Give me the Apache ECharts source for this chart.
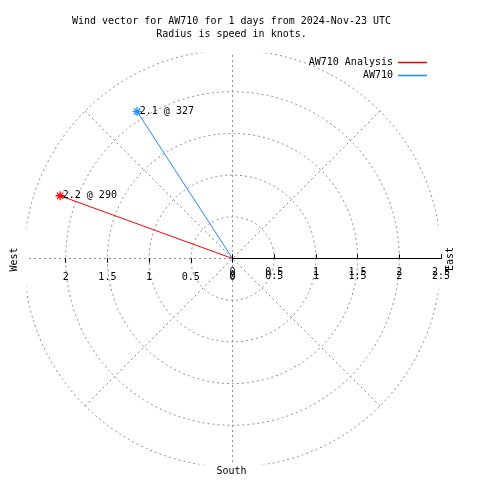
<!DOCTYPE html>
<html>
<head>
<meta charset="utf-8">
<script src="https://cdn.jsdelivr.net/npm/echarts@6/dist/echarts.min.js"></script>
<style>html,body{margin:0;padding:0;background:#fff;}#c{width:480px;height:480px;}</style>
</head>
<body>
<div id="c"></div>
<script>
// ---- data ----
const titleLines = ['Wind vector for AW710 for 1 days from 2024-Nov-23 UTC', 'Radius is speed in knots.'];
const stations = ['AW710 Analysis', 'AW710'];
const speeds = [2.2, 2.1];          // knots
const directions = [290, 327];      // degrees (bearing)
const radiusTicks = [0, 0.5, 1, 1.5, 2, 2.5];
const westTicks = [0, 0.5, 1, 1.5, 2];
const compassLabels = ['West', 'East', 'South'];

const FONT = 'DejaVu Sans Mono';
const COLORS = ['#ff0000', '#1e8cff'];
const CENTER = [232.5, 258.5];
const RADIUS = 208.5;
const rMin = radiusTicks[0], rMax = radiusTicks[radiusTicks.length - 1], rStep = radiusTicks[1] - radiusTicks[0];

const chart = echarts.init(document.getElementById('c'), null, {renderer: 'canvas'});

const dashed = {show: true, lineStyle: {color: '#8c8c8c', width: 1, type: [2, 3]}};
const hidden = {show: false};

function polar() { return {center: CENTER, radius: RADIUS}; }
function hiddenAngle(i, start) {
  return {polarIndex: i, type: 'value', min: 90, max: 450, interval: 45, startAngle: start, clockwise: true,
    axisLine: hidden, axisTick: hidden, axisLabel: hidden, splitLine: hidden, z: 5};
}
function radAxis(i, extra) {
  return Object.assign({polarIndex: i, type: 'value', min: rMin, max: rMax, interval: rStep,
    axisLine: hidden, axisTick: hidden, axisLabel: hidden, splitLine: hidden, splitArea: hidden, z: 5}, extra);
}
const lbl = (margin, custom) => {
  const o = {show: true, margin: margin, color: '#000', fontFamily: FONT, fontSize: 10,
    formatter: v => String(v)};
  if (custom) o.customValues = custom;
  return o;
};
const tick = (inside, custom) => {
  const o = {show: true, inside: inside, length: 4, lineStyle: {color: '#000', width: 1}};
  if (custom) o.customValues = custom;
  return o;
};

const series = stations.map((name, i) => ({
  name: name,
  type: 'line',
  coordinateSystem: 'polar',
  polarIndex: 0,
  z: 3,
  animation: false,
  lineStyle: {width: 1, color: COLORS[i]},
  symbol: 'path://M4,0L4,8M0,4L8,4M1.2,1.2L6.8,6.8M1.2,6.8L6.8,1.2',
  symbolSize: 9,
  itemStyle: {color: COLORS[i], borderColor: COLORS[i], borderWidth: 1.3},
  data: [
    {value: [0, directions[i]], symbol: 'none', label: {show: false}},
    {value: [speeds[i], directions[i]]}
  ],
  label: {
    show: true, position: 'right', distance: -2.5,
    color: '#000', fontFamily: FONT, fontSize: 10,
    formatter: () => speeds[i] + ' @ ' + directions[i]
  }
}));

const option = {
  animation: false,
  backgroundColor: '#fff',
  color: COLORS,
  title: {
    text: titleLines.join('\n'),
    left: 231.5, top: 14.5, padding: 0, textAlign: 'center',
    textStyle: {fontFamily: FONT, fontSize: 10, fontWeight: 'normal', color: '#000', lineHeight: 13}
  },
  legend: {
    data: stations, orient: 'vertical', right: 53, top: 56.5, padding: 0, align: 'right',
    icon: 'rect', itemWidth: 29, itemHeight: 1.5, itemGap: 1,
    itemStyle: {borderWidth: 0},
    textStyle: {fontFamily: FONT, fontSize: 10, color: '#000', lineHeight: 12}
  },
  polar: [polar(), polar(), polar(), polar(), polar()],
  angleAxis: [
    {polarIndex: 0, type: 'value', min: 90, max: 450, interval: 45, startAngle: 0, clockwise: true,
      axisLine: hidden, axisTick: hidden, axisLabel: hidden, splitLine: dashed, z: 0},
    hiddenAngle(1, 0), hiddenAngle(2, 0), hiddenAngle(3, 180), hiddenAngle(4, 180)
  ],
  radiusAxis: [
    radAxis(0, {splitLine: dashed, z: 0}),
    radAxis(1, {axisLine: {show: true, lineStyle: {color: '#000', width: 1}},
      axisTick: tick(false), axisLabel: lbl(-18.5)}),
    radAxis(2, {axisTick: tick(true), axisLabel: lbl(-23)}),
    radAxis(3, {axisTick: tick(false, westTicks), axisLabel: lbl(14, westTicks)}),
    radAxis(4, {axisTick: tick(true, westTicks)})
  ],
  graphic: [
    {type: 'rect', z: 1, silent: true, shape: {x: 195, y: 44, width: 75, height: 8.5}, style: {fill: '#fff'}},
    {type: 'rect', z: 1, silent: true, shape: {x: 195, y: 464.5, width: 75, height: 8}, style: {fill: '#fff'}},
    {type: 'rect', z: 1, silent: true, shape: {x: 19, y: 221, width: 7.5, height: 75}, style: {fill: '#fff'}},
    {type: 'rect', z: 1, silent: true, shape: {x: 438.5, y: 221, width: 8, height: 75}, style: {fill: '#fff'}},
    {type: 'text', z: 10, x: 14.5, y: 259.5, rotation: Math.PI / 2,
      style: {text: compassLabels[0], font: '10px "' + FONT + '"', fill: '#000', align: 'center', verticalAlign: 'middle'}},
    {type: 'text', z: 10, x: 450, y: 259, rotation: Math.PI / 2,
      style: {text: compassLabels[1], font: '10px "' + FONT + '"', fill: '#000', align: 'center', verticalAlign: 'middle'}},
    {type: 'text', z: 10, x: 231.5, y: 471.5,
      style: {text: compassLabels[2], font: '10px "' + FONT + '"', fill: '#000', align: 'center', verticalAlign: 'middle'}}
  ],
  series: series
};
chart.setOption(option);
</script>
</body>
</html>
